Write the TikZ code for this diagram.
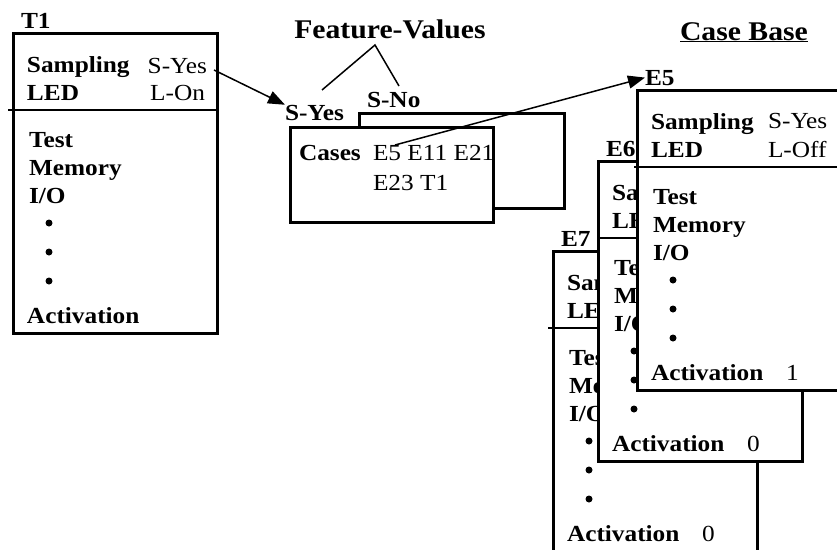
\documentclass[tikz,border=0pt]{standalone}
\usepackage{fontspec}
\setmainfont[FakeStretch=1.1]{Liberation Serif}
\usetikzlibrary{arrows.meta}

\tikzset{
  card/.style={draw, line width=3pt, fill=white, rectangle, inner sep=0pt,
    outer sep=0pt, minimum width=204pt, minimum height=300pt},
  casebox/.style={draw, line width=3pt, fill=white, rectangle, inner sep=0pt,
    outer sep=0pt},
  key/.style={font=\fontsize{23}{26}\selectfont\bfseries, inner sep=0pt, outer sep=0pt},
  val/.style={font=\fontsize{23}{26}\selectfont, inner sep=0pt, outer sep=0pt},
  title/.style={font=\fontsize{27}{30}\selectfont\bfseries, inner sep=0pt, outer sep=0pt},
  rule/.style={line width=1.5pt},
  bullet/.style={circle, fill=black, inner sep=0pt, minimum size=7pt},
  link/.style={line width=1.5pt, -{Triangle[length=17pt,width=13pt]}},
  pointer/.style={line width=1.5pt},
}

% A case card: #1 name, #2 x, #3 y, #4 tag, #5 activation value, #6 length of the rule stub
\newcommand\casecard[6]{%
  \begin{scope}[shift={(#2,#3)}]
    \node[card, anchor=north west] (#1) at (0,0) {};
    \node[key, anchor=base west] (#1-tag) at (8,-5) {#4};
    \draw[rule] (-#6,77) -- (204,77);
    \node[key, anchor=base west] (#1-samp) at (14,39) {Sampling};
    \node[key, anchor=base west] (#1-led) at (14,67) {LED};
    \node[key, anchor=base west] (#1-test) at (16,114) {Test};
    \node[key, anchor=base west] (#1-mem) at (16,142) {Memory};
    \node[key, anchor=base west] (#1-io) at (16,170) {I/O};
    \node[bullet] (#1-d1) at (36,190) {};
    \node[bullet] (#1-d2) at (36,219) {};
    \node[bullet] (#1-d3) at (36,248) {};
    \node[key, anchor=base west] (#1-act) at (14,290) {Activation};
    \node[val, anchor=base west] (#1-actv) at (149,290) {#5};
  \end{scope}}

\begin{document}
\begin{tikzpicture}[x=1pt, y=-1pt]
  \useasboundingbox (0,0) rectangle (837,549);

  % target case
  \casecard{t1}{13}{33}{T1}{}{5}
  \node[val, anchor=base east] (t1-sv) at (207,73) {S-Yes};
  \node[val, anchor=base east] (t1-lv) at (205,100) {L-On};

  % index: feature values and their case lists
  \node[title, anchor=base] (fv) at (390,38) {Feature-Values};
  \coordinate (fv-apex) at (375,45);
  \node[key, anchor=base west] (syes) at (285,120) {S-Yes};
  \node[key, anchor=base west] (sno) at (367,107) {S-No};
  \draw[pointer] (322,90) -- (fv-apex) -- (399,86);

  \node[casebox, anchor=north west, minimum width=205pt, minimum height=95pt] (noidx) at (359,113) {};
  \node[casebox, anchor=north west, minimum width=203pt, minimum height=95pt] (yesidx) at (290,127) {};
  \node[key, anchor=base west] (cases) at (299,160) {Cases};
  \node[val, anchor=base west] (list1) at (373,160) {E5 E11 E21};
  \node[val, anchor=base west] (list2) at (373,190) {E23 T1};

  % case base
  \node[title, anchor=base west] (cb) at (680,40) {\underline{Case Base}};

  \casecard{e7}{553}{251}{E7}{0}{5}
  \node[val, anchor=base west] (e7-sv) at (684,290) {S-Yes};
  \node[val, anchor=base west] (e7-lv) at (684,318) {L-Off};

  \casecard{e6}{598}{161}{E6}{0}{0}
  \node[val, anchor=base west] (e6-sv) at (729,200) {S-Yes};
  \node[val, anchor=base west] (e6-lv) at (729,228) {L-Off};

  \casecard{e5}{637}{90}{E5}{1}{3}
  \node[val, anchor=base west] (e5-sv) at (768,128) {S-Yes};
  \node[val, anchor=base west] (e5-lv) at (768,157) {L-Off};

  % links
  \coordinate (t1-out) at (214,70);
  \coordinate (e5-in) at (395,145);
  \draw[link] (t1-out) -- (syes.north west);
  \draw[link] (e5-in) -- (e5-tag.west);
\end{tikzpicture}
\end{document}
